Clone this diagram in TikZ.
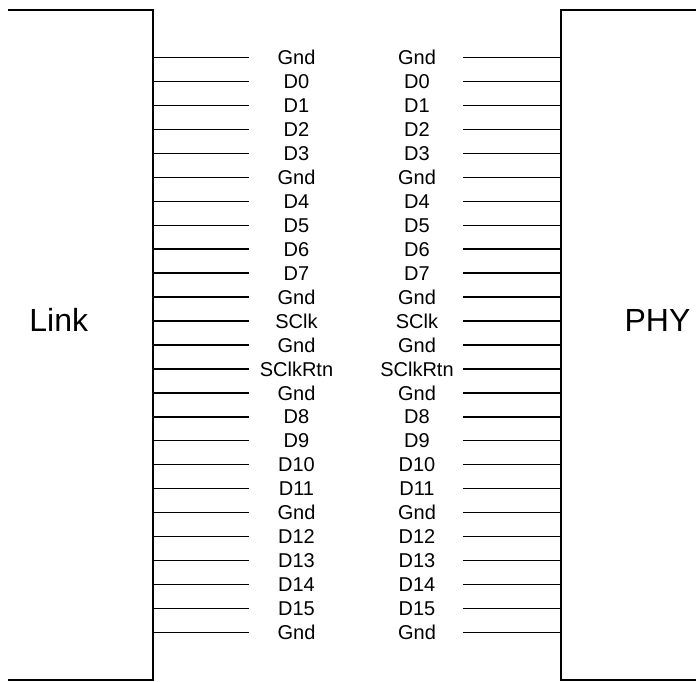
\documentclass[tikz,border=0pt]{standalone}
\usepackage{fontspec}
\setmainfont{Liberation Sans}
\usetikzlibrary{positioning}

\begin{document}
\begin{tikzpicture}[x=1pt, y=-1pt, line join=miter,
    wire/.style={line width=1.5pt},
    pin/.style={font=\fontsize{20}{20}\selectfont, inner sep=0pt, text height=14.3pt, text depth=0pt},
    chip/.style={font=\fontsize{32}{32}\selectfont, inner sep=0pt, text height=22.9pt, text depth=0pt}]
  \useasboundingbox (0,0) rectangle (696,681);
  % link and phy blocks
  \draw[wire] (8,10) -- (153,10) -- (153,680) -- (8,680);
  \draw[wire] (696,10) -- (561,10) -- (561,680) -- (696,680);
  \node[chip] (link) at (58.8,320) {Link};
  \node[chip] (phy) at (657.5,320) {PHY};
  % signal pins
  \foreach \sig [count=\i from 0] in {Gnd,D0,D1,D2,D3,Gnd,D4,D5,D6,D7,Gnd,SClk,Gnd,SClkRtn,Gnd,D8,D9,D10,D11,Gnd,D12,D13,D14,D15,Gnd} {
    \pgfmathsetmacro{\py}{57.7+23.94*\i}
    \coordinate (la\i) at (153,\py);
    \coordinate (lb\i) at (249,\py);
    \coordinate (ra\i) at (463,\py);
    \coordinate (rb\i) at (561,\py);
    \node[pin] (lp\i) at (296.5,\py) {\sig};
    \node[pin] (rp\i) at (417,\py) {\sig};
    \draw[wire] (la\i) -- (lb\i);
    \draw[wire] (ra\i) -- (rb\i);
  }
\end{tikzpicture}
\end{document}
